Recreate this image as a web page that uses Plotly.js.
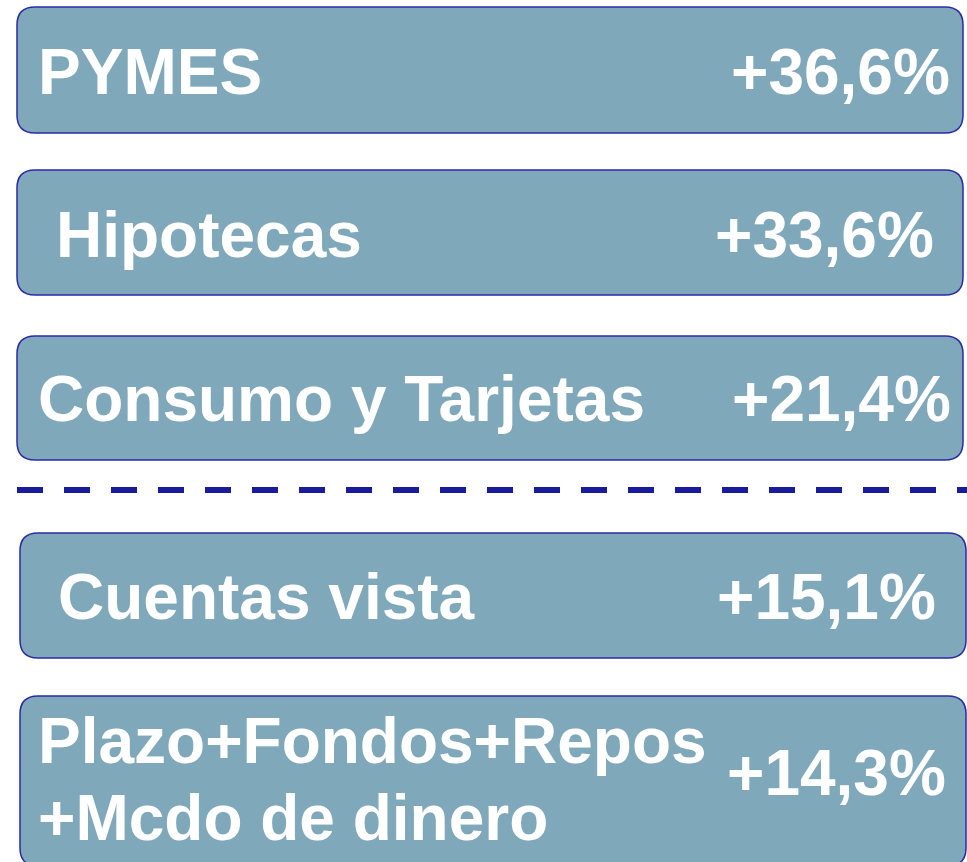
<!DOCTYPE html>
<html>
<head>
<meta charset="utf-8">
<script src="https://cdn.plot.ly/plotly-3.0.1.min.js"></script>
<style>html,body{margin:0;padding:0;background:#fff;}#chart{width:967px;height:862px;}</style>
</head>
<body>
<div id="chart"></div>
<script>
// Data
const categories = ["PYMES", "Hipotecas", "Consumo y Tarjetas", "Cuentas vista", "Plazo+Fondos+Repos<br>+Mcdo de dinero"];
const growthPct = [36.6, 33.6, 21.4, 15.1, 14.3];
const valueLabels = growthPct.map(v => "+" + v.toFixed(1).replace(".", ",") + "%");

// Layout geometry (pixels in a 967x862 canvas)
const boxes = [
  {x0: 17, x1: 963, y0: 7,   y1: 133, labelX: 37, valueX: 951, base: [94],      valueBase: 94},
  {x0: 17, x1: 963, y0: 170, y1: 295, labelX: 55, valueX: 935, base: [257],     valueBase: 257},
  {x0: 17, x1: 963, y0: 336, y1: 460, labelX: 37, valueX: 952, base: [421],     valueBase: 421},
  {x0: 20, x1: 966, y0: 533, y1: 658, labelX: 57, valueX: 937, base: [619],     valueBase: 619},
  {x0: 20, x1: 966, y0: 696, y1: 866, labelX: 37, valueX: 947, base: [763, 840], valueBase: 795}
];
const FS = 64;
const FILL = "#7FA8BA";
const EDGE = "#2A2AA8";
const R = 18;

function roundRect(b) {
  const {x0, x1, y0, y1} = b;
  return `M ${x0+R},${y0} L ${x1-R},${y0} Q ${x1},${y0} ${x1},${y0+R} L ${x1},${y1-R} Q ${x1},${y1} ${x1-R},${y1} L ${x0+R},${y1} Q ${x0},${y1} ${x0},${y1-R} L ${x0},${y0+R} Q ${x0},${y0} ${x0+R},${y0} Z`;
}

const shapes = boxes.map(b => ({
  type: "path", xref: "x", yref: "y", path: roundRect(b),
  fillcolor: FILL, line: {color: EDGE, width: 1.5}, layer: "below"
}));
shapes.push({type: "line", xref: "x", yref: "y", x0: 17, x1: 967, y0: 490, y1: 490,
  line: {color: "#1A1A9C", width: 6, dash: "26px,21px"}});

const font = {family: "Liberation Sans, Arial, sans-serif", size: FS, color: "#ffffff", weight: "bold"};
const mid = 0.3465 * FS;
const annotations = [];
categories.forEach((cat, i) => {
  const b = boxes[i];
  const lines = cat.split("<br>");
  lines.forEach((ln, j) => {
    annotations.push({xref: "x", yref: "y", x: b.labelX, y: b.base[j] - mid, text: "<b>" + ln + "</b>",
      showarrow: false, xanchor: "left", yanchor: "middle", font: font, borderpad: 0});
  });
  annotations.push({xref: "x", yref: "y", x: b.valueX, y: b.valueBase - mid, text: "<b>" + valueLabels[i] + "</b>",
    showarrow: false, xanchor: "right", yanchor: "middle", font: font, borderpad: 0});
});

const layout = {
  width: 967, height: 862,
  margin: {l: 0, r: 0, t: 0, b: 0, pad: 0},
  paper_bgcolor: "#ffffff", plot_bgcolor: "#ffffff",
  xaxis: {range: [0, 967], visible: false, fixedrange: true},
  yaxis: {range: [862, 0], visible: false, fixedrange: true},
  shapes: shapes, annotations: annotations, showlegend: false
};
Plotly.newPlot("chart", [{x: [], y: [], type: "scatter", hoverinfo: "skip"}], layout, {staticPlot: true, displayModeBar: false});
</script>
</body>
</html>
